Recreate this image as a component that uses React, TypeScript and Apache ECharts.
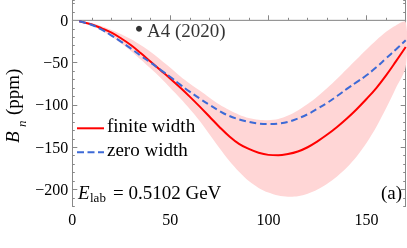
import React, { useEffect, useRef } from "react";
import * as echarts from "echarts";

// scattering angle theta (deg)
const thetaDeg = [3.5, 10, 15, 20, 25, 30, 35, 40, 45, 50, 55, 60, 65, 70, 75, 80, 85, 90, 95, 100, 105, 110, 115, 120, 125, 130, 135, 140, 145, 150, 155, 160, 165, 170];
// B_n (ppm), finite width
const finiteWidth = [-1, -5, -9.5, -14.5, -21.5, -29.5, -39, -49, -59, -69, -79.5, -90.5, -102, -114, -126, -137, -146, -152, -156.5, -159, -159.5, -158, -155, -150, -143, -135, -126, -116, -105, -93, -80, -65, -48.5, -31.5];
// B_n (ppm), zero width
const zeroWidth = [-1, -5.5, -11, -18, -25.5, -33.5, -42, -50, -58.5, -67, -76, -84.5, -92.5, -100, -107, -113, -117, -120, -122, -122.5, -122, -120, -116, -111, -104.5, -97.5, -89.5, -81, -73, -65, -55.5, -45, -34.5, -23.5];
// uncertainty band of finite width result
const bandLower = [-1, -6, -12, -19, -27.5, -36.5, -46.5, -57, -68, -80, -92, -105, -119, -135, -151, -166, -179, -190, -198, -203.5, -207, -208.5, -208, -205, -200, -193, -184.5, -174, -161, -145, -126, -104, -80, -55];
const bandUpper = [-1, -3.5, -7, -11.5, -16.5, -22.5, -29.5, -37.5, -46.5, -56, -66, -75, -83, -91.5, -99.5, -106, -111.5, -115.5, -117.5, -118, -116.5, -112.5, -106.5, -99, -90, -80, -69, -57.5, -46, -34.5, -23.5, -13.5, -6, -2];
// A4 (2020) marker
const a4Point = [34, -10];
const xMajorTicks = [0, 50, 100, 150];
const yMajorTicks = [-200, -150, -100, -50, 0];

const SERIF = "Liberation Serif";
const AXIS = "#888888";

export default function App() {
  const ref = useRef<HTMLDivElement>(null);
  useEffect(() => {
    if (!ref.current) return;
    const chart = echarts.init(ref.current, null, { renderer: "svg" });
    const pts = (ys: number[]) => thetaDeg.map((x, i) => [x, ys[i]]);
    const fmt = (v: number) => (v < 0 ? "\u2212" + Math.abs(v) : String(v));
    const baseX = { type: "value", min: 0, max: 170, interval: 10, position: "bottom", splitLine: { show: false } };
    const baseY = { type: "value", min: -220, max: 24, interval: 10, splitLine: { show: false } };
    const option: any = {
      animation: false,
      grid: { left: 72.3, right: 1.3, top: 0, bottom: 41.5, containLabel: false, outerBoundsMode: "none" },
      xAxis: [
        {
          ...baseX,
          axisLine: { show: true, lineStyle: { color: AXIS, width: 1 } },
          axisTick: { show: true, inside: true, length: 5, customValues: xMajorTicks, lineStyle: { color: AXIS } },
          axisLabel: { show: true, customValues: xMajorTicks, formatter: fmt, color: "#000", fontFamily: SERIF, fontSize: 16, margin: 5 },
        },
        {
          ...baseX,
          axisLine: { show: false },
          axisTick: { show: true, inside: true, length: 2.5, lineStyle: { color: AXIS } },
          axisLabel: { show: false },
        },
      ],
      yAxis: [
        {
          ...baseY,
          position: "left",
          axisLine: { show: true, lineStyle: { color: AXIS, width: 1 } },
          axisTick: { show: true, inside: true, length: 5, customValues: yMajorTicks, lineStyle: { color: AXIS } },
          axisLabel: { show: true, customValues: yMajorTicks, formatter: fmt, color: "#000", fontFamily: SERIF, fontSize: 16, margin: 4 },
        },
        {
          ...baseY,
          position: "left",
          axisLine: { show: false },
          axisTick: { show: true, inside: true, length: 2.5, lineStyle: { color: AXIS } },
          axisLabel: { show: false },
        },
        {
          ...baseY,
          position: "right",
          axisLine: { show: true, lineStyle: { color: AXIS, width: 1 } },
          axisTick: { show: true, inside: true, length: 5, customValues: yMajorTicks, lineStyle: { color: AXIS } },
          axisLabel: { show: false },
        },
        {
          ...baseY,
          position: "right",
          axisLine: { show: false },
          axisTick: { show: true, inside: true, length: 2.5, lineStyle: { color: AXIS } },
          axisLabel: { show: false },
        },
      ],
      series: [
        {
          type: "custom",
          coordinateSystem: "cartesian2d",
          data: [[thetaDeg[0], bandUpper[0]]],
          clip: true,
          silent: true,
          renderItem: (_params: any, api: any) => {
            const up = thetaDeg.map((x, i) => api.coord([x, bandUpper[i]]));
            const lo = thetaDeg.map((x, i) => api.coord([x, bandLower[i]])).reverse();
            return {
              type: "polygon",
              shape: { points: up.concat(lo.slice(0, -1)), smooth: 0.3 },
              style: { fill: "#ffd6d6", stroke: "none" },
            };
          },
          z: 1,
        },
        {
          type: "line",
          data: [[0, 0], [170, 0]],
          symbol: "none",
          lineStyle: { color: "#9a9a9a", width: 1 },
          silent: true,
          z: 2,
        },
        {
          name: "finite width",
          type: "line",
          data: pts(finiteWidth),
          smooth: 0.4,
          symbol: "none",
          lineStyle: { color: "#ff0000", width: 2 },
          z: 3,
        },
        {
          name: "zero width",
          type: "line",
          data: pts(zeroWidth),
          smooth: 0.4,
          symbol: "none",
          lineStyle: { color: "#3d6ad6", width: 2, type: [7, 3.5] },
          z: 4,
        },
        {
          name: "A4 (2020)",
          type: "scatter",
          data: [a4Point],
          symbol: "circle",
          symbolSize: 6,
          itemStyle: { color: "#000" },
          label: {
            show: true,
            position: "right",
            distance: 5,
            formatter: "{a}",
            color: "#000",
            fontFamily: SERIF,
            fontSize: 19,
            offset: [0, 2],
          },
          z: 5,
        },
      ],
      graphic: [
        { type: "line", shape: { x1: 77, y1: 128.3, x2: 104, y2: 128.3 }, style: { stroke: "#ff0000", lineWidth: 2 } },
        { type: "text", x: 107, y: 125.4, style: { text: "finite width", fontFamily: SERIF, fontSize: 19, fill: "#000", verticalAlign: "middle" } },
        { type: "line", shape: { x1: 77, y1: 152.3, x2: 104, y2: 152.3 }, style: { stroke: "#3d6ad6", lineWidth: 2, lineDash: [7, 3.5] } },
        { type: "text", x: 107, y: 149.7, style: { text: "zero width", fontFamily: SERIF, fontSize: 19, fill: "#000", verticalAlign: "middle" } },
        { type: "text", x: 78, y: 192.4, style: { text: "E", fontFamily: SERIF, fontSize: 19, fontStyle: "italic", fill: "#000", verticalAlign: "middle" } },
        { type: "text", x: 90, y: 197.4, style: { text: "lab", fontFamily: SERIF, fontSize: 13, fill: "#000", verticalAlign: "middle" } },
        { type: "text", x: 113, y: 192.4, style: { text: "= 0.5102 GeV", fontFamily: SERIF, fontSize: 19, fill: "#000", verticalAlign: "middle" } },
        { type: "text", x: 402, y: 192.8, style: { text: "(a)", fontFamily: SERIF, fontSize: 19, fill: "#000", align: "right", verticalAlign: "middle" } },
        {
          type: "group",
          x: 19,
          y: 143,
          rotation: Math.PI / 2,
          children: [
            { type: "text", x: 0, y: -6.3, style: { text: "B", fontFamily: SERIF, fontSize: 19, fontStyle: "italic", fill: "#000", verticalAlign: "middle" } },
            { type: "text", x: 16, y: 2, style: { text: "n", fontFamily: SERIF, fontSize: 13, fontStyle: "italic", fill: "#000", verticalAlign: "middle" } },
            { type: "text", x: 28, y: -6.3, style: { text: "(ppm)", fontFamily: SERIF, fontSize: 19, fill: "#000", verticalAlign: "middle" } },
          ],
        },
      ],
    };
    chart.setOption(option);
    return () => chart.dispose();
  }, []);
  return <div ref={ref} style={{ position: "fixed", left: 0, top: 0, width: 407, height: 248 }} />;
}
